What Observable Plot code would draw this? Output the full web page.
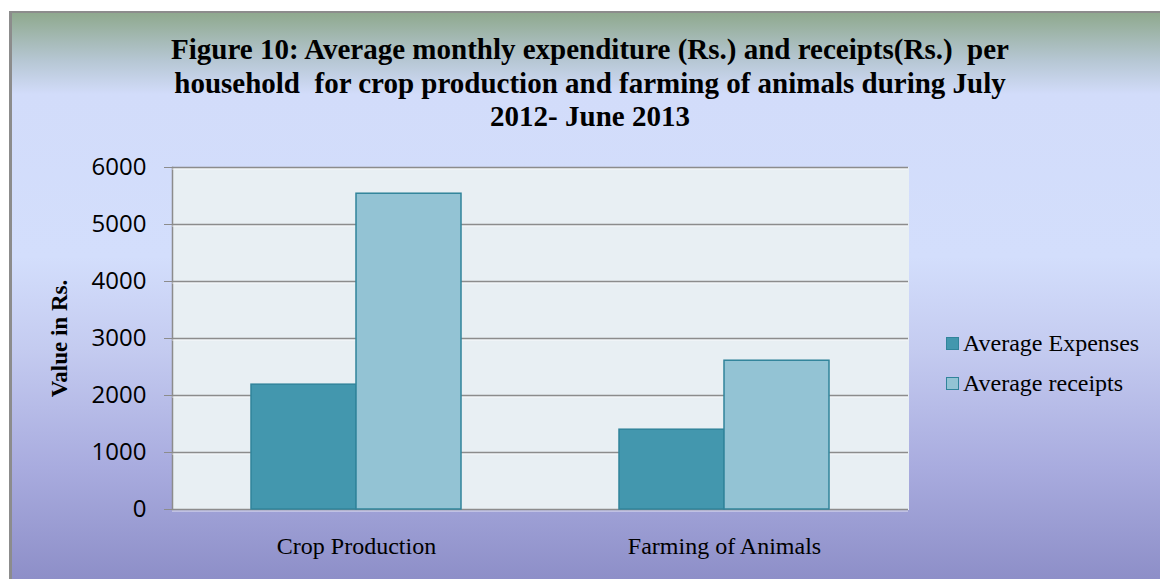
<!DOCTYPE html>
<html>
<head>
<meta charset="utf-8">
<script src="https://cdn.jsdelivr.net/npm/d3@7"></script>
<script src="https://cdn.jsdelivr.net/npm/@observablehq/plot@0.6"></script>
<style>
  html, body { margin: 0; padding: 0; background: #fff; width: 1160px; height: 579px; overflow: hidden; }
  #bg {
    position: absolute; left: 9px; top: 11px; width: 1160px; height: 580px;
    border-left: 3px solid #8c8c8c; border-top: 2px solid #8c8c8c;
    background: linear-gradient(to bottom, #8fa98e 0%, #b5c6d2 8%, #d2dcfa 14%, #d3defc 42%, #c4cbf0 58%, #a9acdf 78%, #8a8bc5 100%);
  }
  #title {
    position: absolute; left: 0; top: 33px; width: 1180px; text-align: center;
    font-family: "Liberation Serif", "Times New Roman", serif; font-weight: bold;
    font-size: 29px; line-height: 33.5px; color: #000; white-space: nowrap;
  }
  #chart { position: absolute; left: 0; top: 0; }
  #legend {
    position: absolute; left: 946px; top: 323px;
    font-family: "Liberation Serif", "Times New Roman", serif; font-size: 24px; color: #000;
  }
  #legend .row { display: flex; align-items: center; height: 40px; }
  #legend .sw { width: 11px; height: 11px; border: 1.5px solid #31849b; margin-right: 4px; }
  #chart g[aria-label="y-axis tick label"] text { font-family: "Open Sans", sans-serif; font-size: 24px; }
  #chart g[aria-label="y-axis label"] text { font-family: "Liberation Serif", serif; font-size: 23px; font-weight: bold; }
  #chart g[aria-label="fx-axis tick label"] text { font-family: "Liberation Serif", serif; font-size: 24px; }
</style>
</head>
<body>
<div id="bg"></div>
<div id="title">Figure 10: Average monthly expenditure (Rs.) and receipts(Rs.)&nbsp; per<br>household&nbsp; for crop production and farming of animals during July<br>2012- June 2013</div>
<div id="chart"></div>
<div id="legend"></div>
<script>
const categories = ["Crop Production", "Farming of Animals"];
const seriesNames = ["Average Expenses", "Average receipts"];
const averageExpenses = [2190, 1400];
const averageReceipts = [5540, 2610];
const yTicks = [0, 1000, 2000, 3000, 4000, 5000, 6000];
const seriesColors = ["#4397ae", "#93c3d4"];

const data = categories.flatMap((c, i) => [
  {category: c, series: seriesNames[0], value: averageExpenses[i]},
  {category: c, series: seriesNames[1], value: averageReceipts[i]}
]);

const chart = Plot.plot({
  width: 1160,
  height: 579,
  marginLeft: 171,
  marginRight: 252,
  marginTop: 167,
  marginBottom: 70,
  style: {background: "transparent", color: "#000"},
  fx: {domain: categories, padding: 0, label: null},
  x: {domain: seriesNames, paddingInner: 0, paddingOuter: 0.746, axis: null},
  y: {domain: [0, 6000], label: null},
  color: {domain: seriesNames, range: seriesColors},
  marks: [
    Plot.frame({fill: "#e8eff3", stroke: "#e8eff3", strokeWidth: 1}),
    Plot.frame({anchor: "left", stroke: "#8c8c8c", strokeWidth: 1.5, facetAnchor: "left"}),
    Plot.ruleY(yTicks, {stroke: "#ffffff", strokeOpacity: 0.7, strokeWidth: 1, dy: 1.5}),
    Plot.ruleY(yTicks, {stroke: "#8c8c8c", strokeWidth: 1.5}),
    Plot.barY(data, {fx: "category", x: "series", y: "value", fill: "series", stroke: "#31849b", strokeWidth: 1.5}),
    Plot.axisY({ticks: yTicks, tickSize: 8, tickPadding: 18, stroke: "#8c8c8c", tickFormat: d => String(d),
      label: "Value in Rs.", labelAnchor: "center", labelArrow: "none", labelOffset: 122}),
    Plot.axisFx({anchor: "bottom", tickSize: 0, tickPadding: 27, label: null})
  ]
});
document.getElementById("chart").appendChild(chart);

const legend = d3.select("#legend");
seriesNames.forEach((s, i) => {
  const row = legend.append("div").attr("class", "row");
  row.append("div").attr("class", "sw").style("background", seriesColors[i]);
  row.append("span").text(s);
});
</script>
</body>
</html>
